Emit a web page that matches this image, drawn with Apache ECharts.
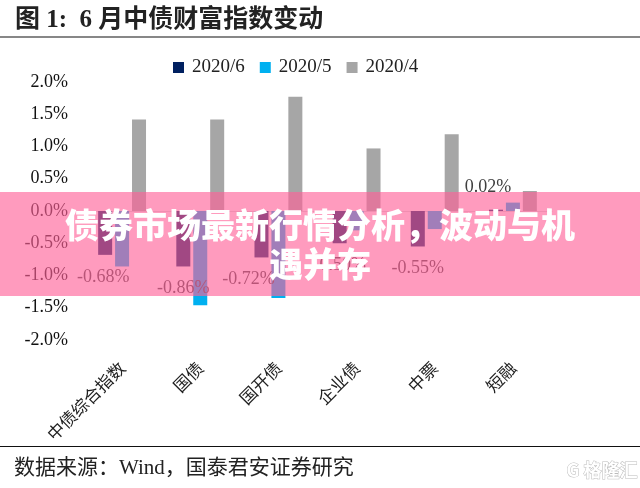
<!DOCTYPE html>
<html><head><meta charset="utf-8">
<style>html,body{margin:0;padding:0;background:#fff}#c{width:640px;height:488px}</style>
<script src="https://cdn.jsdelivr.net/npm/echarts@6/dist/echarts.min.js"></script>
</head><body><div id="c"></div>
<script>
const categories = ['中债综合指数','国债','国开债','企业债','中票','短融'];
const jun2020 = [-0.68,-0.86,-0.72,-0.50,-0.55,0.02];
const may2020 = [-0.86,-1.46,-1.35,-0.30,-0.28,0.13];
const apr2020 = [1.42,1.42,1.77,0.97,1.19,0.31];
const yTicks = {min:-2,max:2,interval:0.5};
const titleText = '图 1:  6 月中债财富指数变动';
const sourceText = '数据来源：Wind，国泰君安证券研究';
const overlayText = '债券市场最新行情分析，波动与机\n遇并存';
const labelNudge = [[-2,0],[0,0],[-13,0],[0,0],[0,0],[-8,0]];
const serif = '"Liberation Serif","Noto Sans CJK SC",serif';
const chart = echarts.init(document.getElementById('c'),null,{renderer:'canvas'});
const bar = (name,data,color,extra)=>Object.assign({name,type:'bar',data,barWidth:14,barGap:'21%',itemStyle:{color},z:2},extra||{});
chart.setOption({
  animation:false,
  backgroundColor:'#fff',
  legend:{top:53,left:168,itemWidth:11,itemHeight:11,itemGap:15,icon:'rect',
    textStyle:{fontFamily:serif,fontSize:19,color:'#222',padding:[0,0,0,3]},
    data:['2020/6','2020/5','2020/4']},
  grid:{left:83,right:88,top:82,bottom:148},
  xAxis:[
    {type:'category',data:categories,position:'bottom',axisLine:{onZero:true,lineStyle:{color:'#d9d9d9'}},axisTick:{show:false},axisLabel:{show:false}},
    {type:'category',data:categories,position:'bottom',axisLine:{show:false,onZero:false},axisTick:{show:false},
     axisLabel:{rotate:45,interval:0,margin:25,fontFamily:'"Noto Sans CJK SC"',fontSize:17,color:'#222'}}
  ],
  yAxis:{type:'value',min:yTicks.min,max:yTicks.max,interval:yTicks.interval,
    axisLine:{show:false},axisTick:{show:false},splitLine:{show:false},
    axisLabel:{margin:15,fontFamily:serif,fontSize:18,color:'#111',formatter:v=>v.toFixed(1)+'%'}},
  series:[
    bar('2020/6',jun2020.map((v,i)=>({value:v,label:{position:v<0?'bottom':'top',offset:labelNudge[i]}})),'#002060',
      {label:{show:true,distance:13,fontFamily:serif,fontSize:18,color:'#404040',formatter:p=>p.value.toFixed(2)+'%'}}),
    bar('2020/5',may2020,'#00B0F0'),
    bar('2020/4',apr2020,'#A6A6A6')
  ],
  graphic:[
    {type:'line',z:50,shape:{x1:0,y1:37,x2:640,y2:37},style:{stroke:'#111',lineWidth:1.2}},
    {type:'line',z:50,shape:{x1:0,y1:446.5,x2:640,y2:446.5},style:{stroke:'#111',lineWidth:1.2}},
    {type:'text',z:50,left:15,top:8,style:{text:titleText,fontFamily:serif,fontSize:25,fontWeight:'bold',fill:'#222'}},
    {type:'text',z:50,left:14,top:458,style:{text:sourceText,fontFamily:serif,fontSize:21,fill:'#222'}},
    {type:'text',z:50,left:566,top:461,style:{text:'G 格隆汇',fontFamily:'"Noto Sans CJK SC"',fontSize:18,fontWeight:'bold',fill:'#fff',stroke:'#bbb',lineWidth:1}},
    {type:'rect',z:100,shape:{x:0,y:192,width:640,height:104},style:{fill:'rgba(255,97,152,0.63)'}},
    {type:'text',z:101,x:320,y:245,style:{text:overlayText,align:'center',verticalAlign:'middle',lineHeight:39,
      fontFamily:'"Noto Sans CJK SC"',fontSize:34,fontWeight:900,fill:'#fff'}}
  ]
});
</script></body></html>
